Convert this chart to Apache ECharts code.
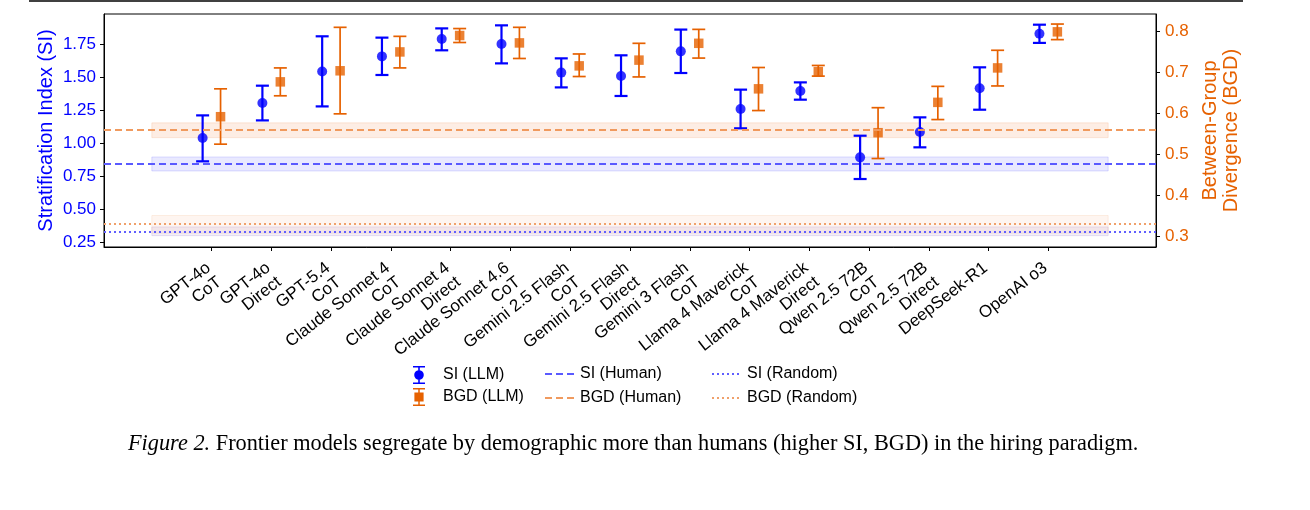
<!DOCTYPE html>
<html>
<head>
<meta charset="utf-8">
<script src="https://cdn.jsdelivr.net/npm/echarts@6/dist/echarts.min.js"></script>
<style>
  html, body { margin: 0; padding: 0; background: #fff; }
  #chart { width: 1310px; height: 510px; }
</style>
</head>
<body>
<div id="chart"></div>
<script>
var labels = ['GPT-4o\nCoT', 'GPT-4o\nDirect', 'GPT-5.4\nCoT', 'Claude Sonnet 4\nCoT', 'Claude Sonnet 4\nDirect',
    'Claude Sonnet 4.6\nCoT', 'Gemini 2.5 Flash\nCoT', 'Gemini 2.5 Flash\nDirect', 'Gemini 3 Flash\nCoT',
    'Llama 4 Maverick\nCoT', 'Llama 4 Maverick\nDirect', 'Qwen 2.5 72B\nCoT', 'Qwen 2.5 72B\nDirect',
    'DeepSeek-R1', 'OpenAI o3'];

var siMean = [1.038, 1.303, 1.542, 1.656, 1.788, 1.750, 1.533, 1.508, 1.694, 1.258, 1.394, 0.891, 1.083, 1.414, 1.828];
var siLow  = [0.861, 1.171, 1.277, 1.515, 1.702, 1.603, 1.421, 1.356, 1.530, 1.111, 1.328, 0.727, 0.967, 1.252, 1.758];
var siHigh = [1.209, 1.434, 1.808, 1.798, 1.868, 1.891, 1.641, 1.664, 1.859, 1.404, 1.459, 1.055, 1.194, 1.573, 1.896];

var bgdMean = [0.591, 0.676, 0.703, 0.749, 0.789, 0.771, 0.715, 0.729, 0.770, 0.659, 0.701, 0.552, 0.626, 0.710, 0.798];
var bgdLow  = [0.524, 0.642, 0.598, 0.710, 0.772, 0.733, 0.689, 0.688, 0.734, 0.606, 0.690, 0.489, 0.584, 0.666, 0.779];
var bgdHigh = [0.659, 0.710, 0.809, 0.787, 0.806, 0.809, 0.744, 0.770, 0.804, 0.711, 0.716, 0.613, 0.665, 0.753, 0.817];

// reference levels: [value, band low, band high]
var siHuman = [0.836, 0.788, 0.894];
var bgdHuman = [0.557, 0.540, 0.576];
var siRandom = [0.330, 0.298, 0.364];
var bgdRandom = [0.325, 0.307, 0.350];

var siTicks = [0.25, 0.50, 0.75, 1.00, 1.25, 1.50, 1.75];
var bgdTicks = [0.3, 0.4, 0.5, 0.6, 0.7, 0.8];

var BLUE = '#0000ff';
var ORANGE = '#e66100';
var OFF = 0.15;
var FONT = '"Liberation Sans", Arial, sans-serif';
var SERIF = '"Liberation Serif", "Times New Roman", serif';

var idx = labels.map(function (d, i) { return i; });

function errData(lo, hi, shift) {
    return lo.map(function (v, i) { return [i + shift, v, hi[i]]; });
}
function ptData(m, shift) {
    return m.map(function (v, i) { return [i + shift, v]; });
}

function errBar(width, capW) {
    return function (params, api) {
        var x = api.value(0);
        var a = api.coord([x, api.value(1)]);
        var b = api.coord([x, api.value(2)]);
        var st = { stroke: api.visual('color'), lineWidth: width };
        return {
            type: 'group',
            children: [
                { type: 'line', shape: { x1: a[0], y1: a[1], x2: b[0], y2: b[1] }, style: st },
                { type: 'line', shape: { x1: a[0] - capW / 2, y1: a[1], x2: a[0] + capW / 2, y2: a[1] }, style: st },
                { type: 'line', shape: { x1: b[0] - capW / 2, y1: b[1], x2: b[0] + capW / 2, y2: b[1] }, style: st }
            ]
        };
    };
}

function refSeries(name, ref, yIdx, color, dash, bandColor, bandBorder) {
    return {
        name: name, type: 'line', yAxisIndex: yIdx, data: [], symbol: 'none',
        lineStyle: { color: color, width: 2, type: dash },
        itemStyle: { color: color },
        markLine: {
            silent: true, symbol: 'none', label: { show: false },
            lineStyle: { color: color, width: 2, type: dash },
            data: [{ yAxis: ref[0] }]
        },
        markArea: {
            silent: true,
            itemStyle: { color: bandColor, borderColor: bandBorder, borderWidth: 1 },
            data: [[{ xAxis: -1, yAxis: ref[1] }, { xAxis: 15, yAxis: ref[2] }]]
        }
    };
}

var siIcon = 'path://M0 0H12V1.6H0Z M5.2 0H6.8V18H5.2Z M0 16.4H12V18H0Z M1.2 9A4.8 4.8 0 1 1 10.8 9A4.8 4.8 0 1 1 1.2 9Z';
var bgdIcon = 'path://M0 0H12V1.5H0Z M5.25 0H6.75V18H5.25Z M0 16.5H12V18H0Z M1.4 4.4H10.6V13.6H1.4Z';

var legendText = { fontSize: 16, color: '#000', fontFamily: FONT };
var noSymbol = { color: 'rgba(0,0,0,0)', borderWidth: 0, opacity: 0 };

var chart = echarts.init(document.getElementById('chart'));

var option = {
    animation: false,
    textStyle: { fontFamily: FONT },
    grid: { left: 104, right: 154, top: 14, bottom: 263, show: true, borderColor: '#000', borderWidth: 1 },
    xAxis: {
        type: 'value', min: -1.8, max: 15.8,
        splitLine: { show: false },
        axisLine: { onZero: false, lineStyle: { color: '#000', width: 1 } },
        axisTick: { customValues: idx, length: 4, lineStyle: { color: '#000' } },
        axisLabel: {
            customValues: idx, rotate: 38, margin: 5, color: '#000', fontSize: 17, lineHeight: 18,
            fontFamily: FONT, align: 'right', verticalAlign: 'top', padding: [0, 11, 0, 0],
            showMinLabel: true, showMaxLabel: true,
            formatter: function (v) { return labels[Math.round(v)]; }
        }
    },
    yAxis: [{
        type: 'value', min: 0.212, max: 1.977, position: 'left',
        name: 'Stratification Index (SI)', nameLocation: 'middle', nameGap: 48, nameMoveOverlap: false,
        nameTextStyle: { color: BLUE, fontSize: 20, fontFamily: FONT },
        splitLine: { show: false },
        axisLine: { show: true, onZero: false, lineStyle: { color: '#000' } },
        axisTick: { customValues: siTicks, length: 4, lineStyle: { color: '#000' } },
        axisLabel: {
            customValues: siTicks, color: BLUE, fontSize: 17, margin: 8, fontFamily: FONT,
            formatter: function (v) { return v.toFixed(2); }
        }
    }, {
        type: 'value', min: 0.2732, max: 0.8415, position: 'right',
        name: 'Between-Group\nDivergence (BGD)', nameLocation: 'middle', nameGap: 32,
        nameRotate: 90,
        nameTextStyle: { color: ORANGE, fontSize: 20, lineHeight: 21, fontFamily: FONT },
        splitLine: { show: false },
        axisLine: { show: true, onZero: false, lineStyle: { color: '#000' } },
        axisTick: { customValues: bgdTicks, length: 4, lineStyle: { color: '#000' } },
        axisLabel: {
            customValues: bgdTicks, color: ORANGE, fontSize: 17, margin: 9, fontFamily: FONT,
            formatter: function (v) { return v.toFixed(1); }
        }
    }],
    legend: [{
        left: 408, top: 361, orient: 'vertical', itemWidth: 38, itemHeight: 18, itemGap: 4,
        textStyle: legendText,
        data: [{ name: 'SI (LLM)', icon: siIcon }, { name: 'BGD (LLM)', icon: bgdIcon }]
    }, {
        left: 539, top: 361, orient: 'vertical', itemWidth: 30, itemHeight: 18, itemGap: 8,
        textStyle: legendText, itemStyle: noSymbol,
        data: ['SI (Human)', 'BGD (Human)']
    }, {
        left: 706, top: 361, orient: 'vertical', itemWidth: 30, itemHeight: 18, itemGap: 8,
        textStyle: legendText, itemStyle: noSymbol,
        data: ['SI (Random)', 'BGD (Random)']
    }],
    graphic: [{
        type: 'line', shape: { x1: 29, y1: 1, x2: 1243, y2: 1 }, style: { stroke: '#000', lineWidth: 1.5 }
    }, {
        type: 'text', left: 128, top: 433,
        style: {
            text: '{i|Figure 2.} Frontier models segregate by demographic more than humans (higher SI, BGD) in the hiring paradigm.',
            font: '22.3px ' + SERIF, fill: '#000',
            rich: { i: { fontStyle: 'italic', fontSize: 22.3, fontFamily: SERIF } }
        }
    }],
    series: [
        refSeries('SI (Random)', siRandom, 0, '#5f5fff', [2, 3], 'rgba(90,40,160,0.08)', 'rgba(90,40,160,0.12)'),
        refSeries('BGD (Random)', bgdRandom, 1, '#f0a06a', [2, 3], 'rgba(240,130,60,0.08)', 'rgba(240,130,60,0.12)'),
        refSeries('SI (Human)', siHuman, 0, '#5a5aff', [7, 4], 'rgba(40,40,255,0.1)', 'rgba(40,40,255,0.15)'),
        refSeries('BGD (Human)', bgdHuman, 1, '#f09a5e', [7, 4], 'rgba(235,110,30,0.12)', 'rgba(235,110,30,0.15)'),
        {
            name: 'SI (LLM)', type: 'custom', yAxisIndex: 0, itemStyle: { color: BLUE },
            renderItem: errBar(2.2, 13), encode: { x: 0, y: [1, 2] }, data: errData(siLow, siHigh, -OFF), z: 3
        }, {
            name: 'BGD (LLM)', type: 'custom', yAxisIndex: 1, itemStyle: { color: ORANGE },
            renderItem: errBar(1.7, 13), encode: { x: 0, y: [1, 2] }, data: errData(bgdLow, bgdHigh, OFF), z: 3
        }, {
            name: 'SI (LLM)', type: 'scatter', yAxisIndex: 0, symbol: 'circle', symbolSize: 10,
            itemStyle: { color: BLUE }, data: ptData(siMean, -OFF), z: 4
        }, {
            name: 'BGD (LLM)', type: 'scatter', yAxisIndex: 1, symbol: 'rect', symbolSize: 9.5,
            itemStyle: { color: ORANGE }, data: ptData(bgdMean, OFF), z: 4
        }
    ]
};

chart.setOption(option);
</script>
</body>
</html>
